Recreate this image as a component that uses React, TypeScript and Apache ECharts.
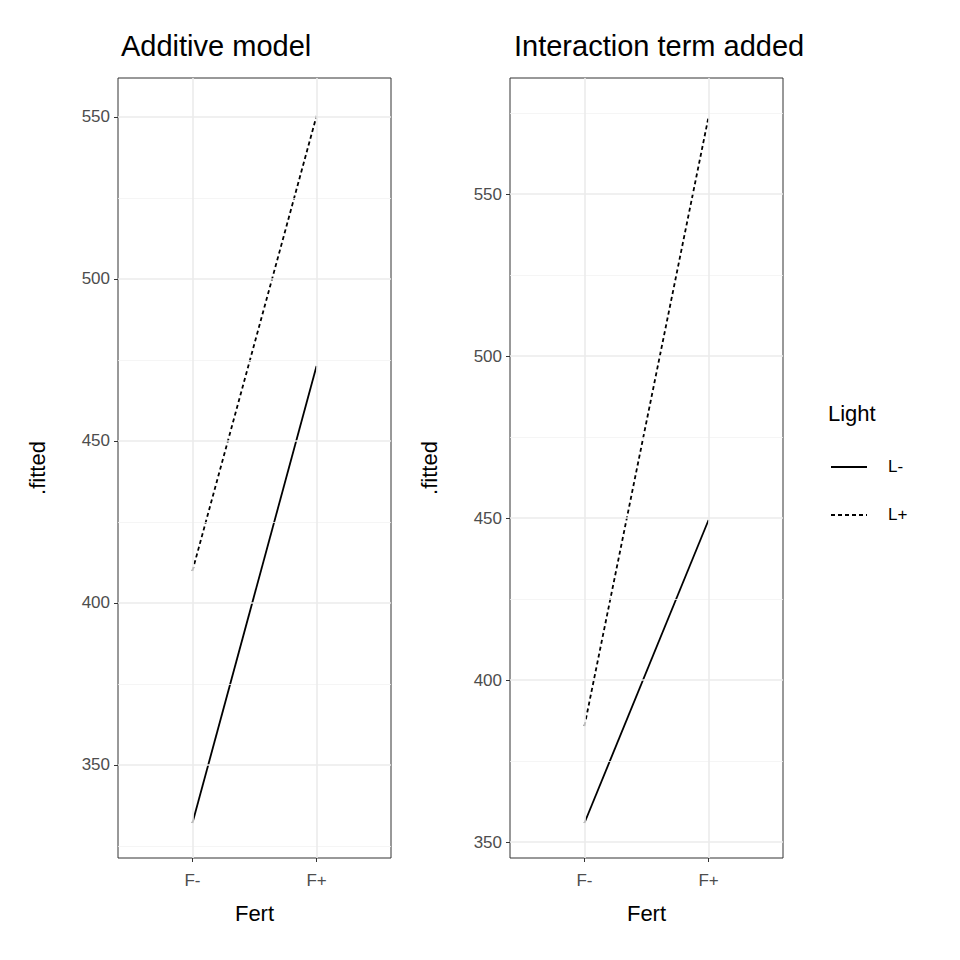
import { useEffect, useRef } from "react";
import * as echarts from "echarts";

const fertLabels = ["F-", "F+"];
const fertPos = [1, 2];
const additiveLminus = [332.1, 473.1];
const additiveLplus = [409.9, 550.3];
const interactLminus = [355.9, 449.4];
const interactLplus = [385.8, 573.8];
const yTicks = [350, 400, 450, 500, 550];
const leftMinor = [325, 375, 425, 475, 525];
const rightMinor = [375, 425, 475, 525, 575];

const FONT = "Liberation Sans";

function panel(idx: number, minV: number, maxV: number, minor: number[]) {
    const xAxis = {
        type: "value",
        gridIndex: idx,
        min: 0.4,
        max: 2.6,
        name: "Fert",
        nameLocation: "middle",
        nameGap: 44,
        nameTextStyle: { fontFamily: FONT, fontSize: 22, color: "#000" },
        axisLine: { show: false },
        splitLine: { show: false },
        axisTick: { show: true, customValues: fertPos, length: 4, lineStyle: { color: "#333" } },
        axisLabel: {
            customValues: fertPos,
            formatter: (v: number) => fertLabels[fertPos.indexOf(v)] ?? "",
            fontFamily: FONT, fontSize: 17, color: "#4d4d4d", margin: 14
        }
    };
    const yAxis = {
        type: "value",
        gridIndex: idx,
        min: minV,
        max: maxV,
        name: ".fitted",
        nameLocation: "middle",
        nameGap: 70,
        nameTextStyle: { fontFamily: FONT, fontSize: 22, color: "#000" },
        axisLine: { show: false },
        splitLine: { show: false },
        axisTick: { show: true, customValues: yTicks, length: 4, lineStyle: { color: "#333" } },
        axisLabel: {
            customValues: yTicks,
            fontFamily: FONT, fontSize: 17, color: "#4d4d4d", margin: 8
        }
    };
    const gridSeries = {
        type: "line",
        xAxisIndex: idx,
        yAxisIndex: idx,
        data: [],
        silent: true,
        z: 1,
        markLine: {
            silent: true,
            symbol: "none",
            label: { show: false },
            animation: false,
            data: [
                ...minor.map((v) => ({ yAxis: v, lineStyle: { color: "#f2f2f2", width: 0.8, type: "solid" } })),
                ...yTicks.map((v) => ({ yAxis: v, lineStyle: { color: "#ebebeb", width: 1.6, type: "solid" } })),
                ...fertPos.map((v) => ({ xAxis: v, lineStyle: { color: "#ebebeb", width: 1.6, type: "solid" } }))
            ]
        }
    };
    return { xAxis, yAxis, gridSeries };
}

function dataLine(idx: number, vals: number[], dashed: boolean) {
    return {
        type: "line",
        xAxisIndex: idx,
        yAxisIndex: idx,
        data: fertPos.map((x, i) => [x, vals[i]]),
        symbol: "none",
        z: 3,
        lineStyle: { color: "#000", width: 1.8, type: dashed ? [4, 3] : "solid" }
    };
}

export default function App() {
    const chartRef = useRef<HTMLDivElement>(null);

    useEffect(() => {
        document.body.style.margin = "0";
        if (!chartRef.current) return;
        const chart = echarts.init(chartRef.current, undefined, { renderer: "svg" });
        const p0 = panel(0, 321.3, 562, leftMinor);
        const p1 = panel(1, 345.1, 585.8, rightMinor);

        chart.setOption({
            animation: false,
            backgroundColor: "#fff",
            title: [
                { text: "Additive model", left: 116, top: 26, textStyle: { fontFamily: FONT, fontSize: 29, fontWeight: "normal", color: "#000" } },
                { text: "Interaction term added", left: 509, top: 26, textStyle: { fontFamily: FONT, fontSize: 29, fontWeight: "normal", color: "#000" } }
            ],
            grid: [
                { left: 118, top: 78, width: 273, height: 780, show: true, borderColor: "#333", borderWidth: 1, backgroundColor: "transparent", z: 5 },
                { left: 510, top: 78, width: 273, height: 780, show: true, borderColor: "#333", borderWidth: 1, backgroundColor: "transparent", z: 5 }
            ],
            xAxis: [p0.xAxis, p1.xAxis],
            yAxis: [p0.yAxis, p1.yAxis],
            series: [
                p0.gridSeries,
                p1.gridSeries,
                dataLine(0, additiveLminus, false),
                dataLine(0, additiveLplus, true),
                dataLine(1, interactLminus, false),
                dataLine(1, interactLplus, true)
            ],
            graphic: [
                { type: "text", left: 828, top: 402, style: { text: "Light", fontFamily: FONT, fontSize: 22, fill: "#000" } },
                { type: "line", shape: { x1: 831, y1: 467, x2: 867, y2: 467 }, style: { stroke: "#000", lineWidth: 1.8 } },
                { type: "text", left: 888, top: 458, style: { text: "L-", fontFamily: FONT, fontSize: 17, fill: "#000" } },
                { type: "line", shape: { x1: 831, y1: 515, x2: 867, y2: 515 }, style: { stroke: "#000", lineWidth: 1.8, lineDash: [4, 3] } },
                { type: "text", left: 888, top: 506, style: { text: "L+", fontFamily: FONT, fontSize: 17, fill: "#000" } }
            ]
        });

        return () => {
            chart.dispose();
        };
    }, []);

    return <div ref={chartRef} style={{ width: "960px", height: "960px" }} />;
}
